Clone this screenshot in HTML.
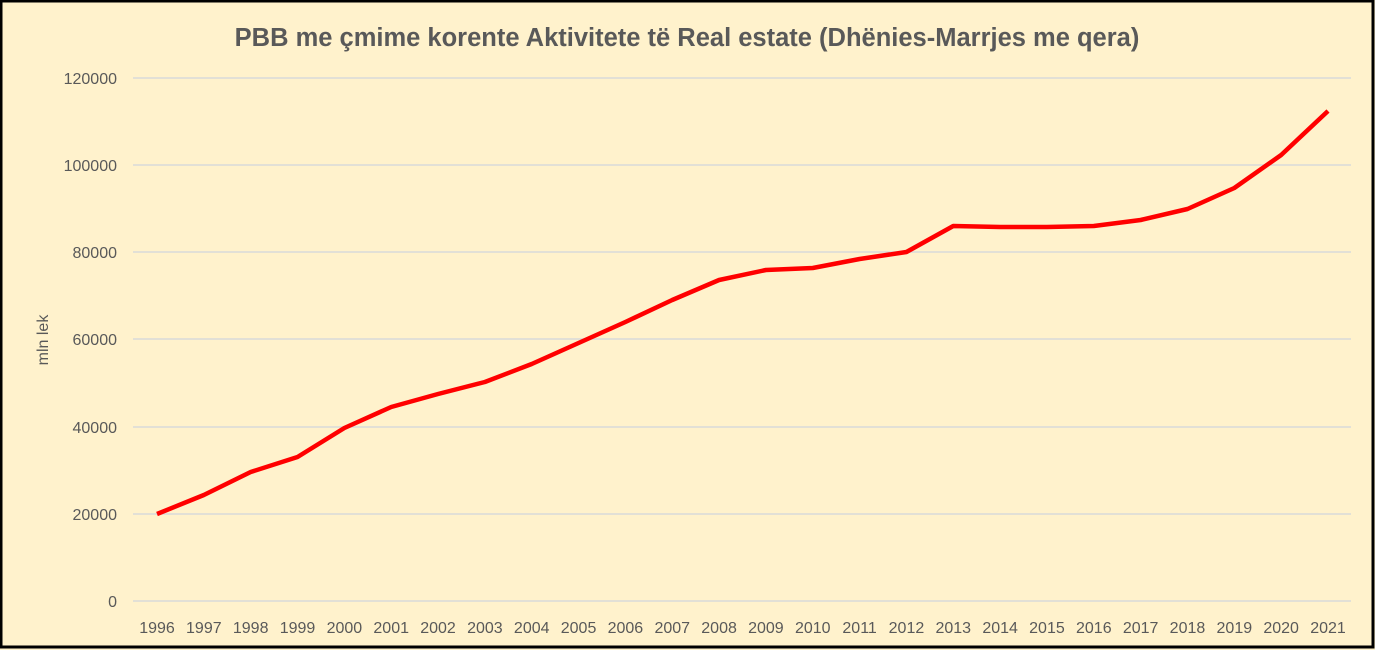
<!DOCTYPE html>
<html><head><meta charset="utf-8"><style>
html,body{margin:0;padding:0;background:#fff2cc;}
svg{display:block;}
text{font-family:"Liberation Sans",sans-serif;fill:#595959;}
</style></head><body>
<svg width="1375" height="650" xmlns="http://www.w3.org/2000/svg">
<rect x="1" y="1" width="1372" height="646" fill="#fff2cc" stroke="#000" stroke-width="3"/>
<text x="687" y="46" text-anchor="middle" font-size="25.5" font-weight="bold">PBB me çmime korente Aktivitete të Real estate (Dhënies-Marrjes me qera)</text>
<g stroke="#d9d9d9" stroke-width="1.5">
<line x1="133" x2="1351" y1="78" y2="78"/>
<line x1="133" x2="1351" y1="165" y2="165"/>
<line x1="133" x2="1351" y1="252" y2="252"/>
<line x1="133" x2="1351" y1="339" y2="339"/>
<line x1="133" x2="1351" y1="427" y2="427"/>
<line x1="133" x2="1351" y1="514" y2="514"/>
<line x1="133" x2="1351" y1="601" y2="601"/>
</g>
<g font-size="16" text-anchor="end">
<text x="117" y="84">120000</text>
<text x="117" y="171">100000</text>
<text x="117" y="258">80000</text>
<text x="117" y="345">60000</text>
<text x="117" y="433">40000</text>
<text x="117" y="520">20000</text>
<text x="117" y="607">0</text>
</g>
<text transform="translate(48,340) rotate(-90)" text-anchor="middle" font-size="16">mln lek</text>
<g font-size="16" text-anchor="middle">
<text x="157" y="633">1996</text><text x="203.84" y="633">1997</text><text x="250.68" y="633">1998</text><text x="297.52" y="633">1999</text><text x="344.36" y="633">2000</text><text x="391.2" y="633">2001</text><text x="438.04" y="633">2002</text><text x="484.88" y="633">2003</text><text x="531.72" y="633">2004</text><text x="578.56" y="633">2005</text><text x="625.4" y="633">2006</text><text x="672.24" y="633">2007</text><text x="719.08" y="633">2008</text><text x="765.92" y="633">2009</text><text x="812.76" y="633">2010</text><text x="859.6" y="633">2011</text><text x="906.44" y="633">2012</text><text x="953.28" y="633">2013</text><text x="1000.12" y="633">2014</text><text x="1046.96" y="633">2015</text><text x="1093.8" y="633">2016</text><text x="1140.64" y="633">2017</text><text x="1187.48" y="633">2018</text><text x="1234.32" y="633">2019</text><text x="1281.16" y="633">2020</text><text x="1328" y="633">2021</text>
</g>
<polyline fill="none" stroke="#ff0000" stroke-width="4.5" stroke-linejoin="round" points="157,514 203.84,495 250.68,472 297.52,457 344.36,428 391.2,407 438.04,394 484.88,382 531.72,364 578.56,343 625.4,322 672.24,300 719.08,280 765.92,270 812.76,268 859.6,259 906.44,252 953.28,226 1000.12,227 1046.96,227 1093.8,226 1140.64,220 1187.48,209 1234.32,188 1281.16,155 1328,111"/>
</svg>
</body></html>
